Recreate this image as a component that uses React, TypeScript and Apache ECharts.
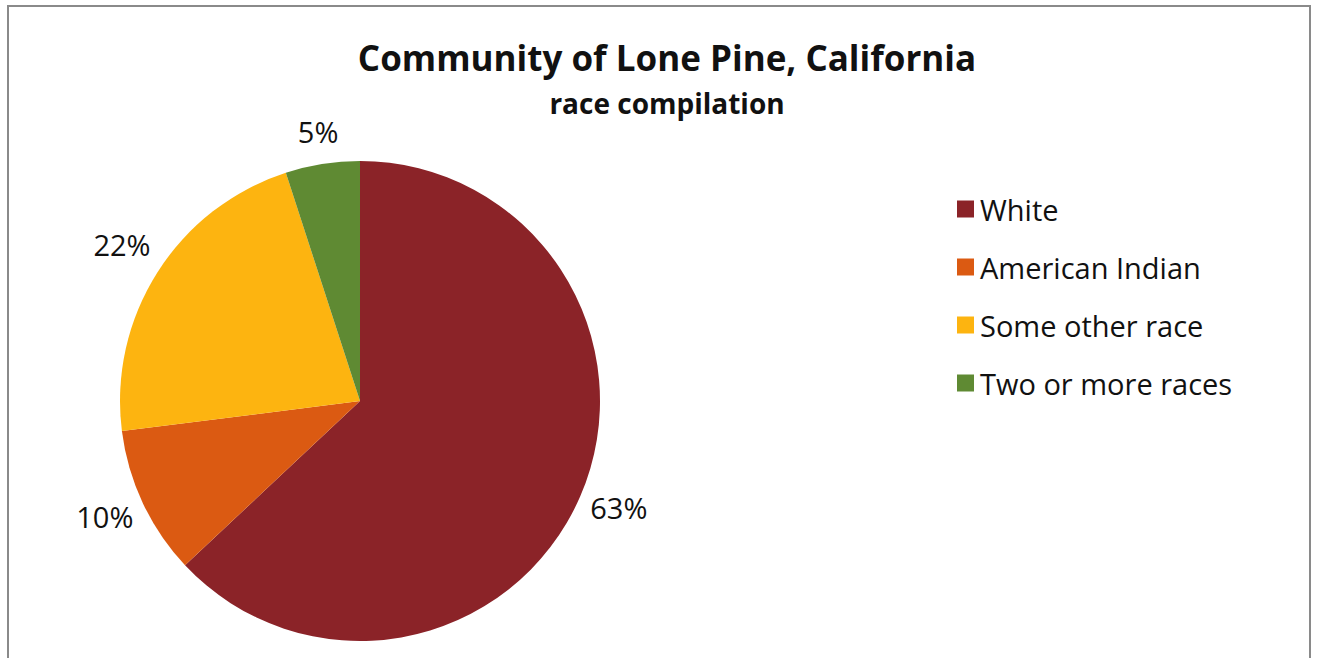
import React, { useEffect, useRef } from "react";
import * as echarts from "echarts";

const categories = ["White", "American Indian", "Some other race", "Two or more races"];
const values = [63, 10, 22, 5];
const colors = ["#8B2328", "#DB5A12", "#FDB410", "#5F8A33"];
const titleText = "Community of Lone Pine, California";
const subtitleText = "race compilation";

const CX = 360;
const CY = 401;
const R = 240;

export default function App() {
  const ref = useRef<HTMLDivElement>(null);
  useEffect(() => {
    if (!ref.current) return;
    const chart = echarts.init(ref.current, null, { renderer: "svg" });
    const font = "'Open Sans', sans-serif";
    const total = values.reduce((a, b) => a + b, 0);
    const midAngle = (i: number) => {
      let before = 0;
      for (let k = 0; k < i; k++) before += values[k];
      return ((before + values[i] / 2) / total) * Math.PI * 2;
    };
    chart.setOption({
      animation: false,
      backgroundColor: "#ffffff",
      title: {
        text: titleText,
        subtext: subtitleText,
        left: 662,
        textAlign: "center",
        top: 33,
        itemGap: 12,
        textStyle: { fontFamily: font, fontSize: 35, fontWeight: "bold", color: "#111", lineHeight: 38 },
        subtextStyle: { fontFamily: font, fontSize: 28, fontWeight: "bold", color: "#111", lineHeight: 30 },
      },
      legend: {
        orient: "vertical",
        left: 952,
        top: 189,
        itemWidth: 17,
        itemHeight: 17,
        itemGap: 28,
        icon: "rect",
        textStyle: { fontFamily: font, fontSize: 29, color: "#111", lineHeight: 30, padding: [0, 0, 0, 1] },
        data: categories,
      },
      color: colors,
      graphic: [
        {
          type: "rect",
          shape: { x: 8, y: 6, width: 1302, height: 660 },
          style: { fill: "none", stroke: "#8a8a8a", lineWidth: 2 },
          silent: true,
        },
      ],
      series: [
        {
          type: "pie",
          center: [CX, CY],
          radius: R,
          startAngle: 90,
          clockwise: true,
          data: categories.map((c, i) => ({ name: c, value: values[i] })),
          label: {
            show: true,
            position: "outside",
            formatter: (p: any) => `${p.value}%`,
            fontFamily: font,
            fontSize: 29,
            color: "#111",
          },
          labelLine: { show: false, length: 27, length2: 0 },
          labelLayout: (p: any) => {
            const a = midAngle(p.dataIndex);
            const s = Math.sin(a);
            const c = Math.cos(a);
            const w = p.labelRect.width;
            const h = p.labelRect.height;
            const d = R + 10 + Math.abs(s) * w / 2 + Math.abs(c) * h / 2;
            return {
              x: CX + d * s,
              y: CY - d * c - 5,
              align: "center",
              verticalAlign: "middle",
            };
          },
          itemStyle: { borderWidth: 0 },
          emphasis: { disabled: true },
        },
      ],
    });
    return () => chart.dispose();
  }, []);
  return (
    <div
      ref={ref}
      style={{ position: "absolute", left: 0, top: 0, width: 1318, height: 658 }}
    />
  );
}
